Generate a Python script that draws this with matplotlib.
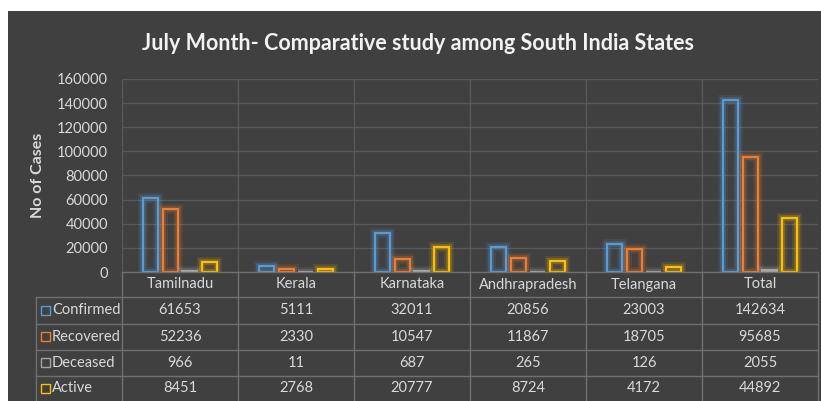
import matplotlib
matplotlib.use("Agg")
import matplotlib.pyplot as plt
import matplotlib.patheffects as pe
from matplotlib.patches import Rectangle
from matplotlib.lines import Line2D
import numpy as np

states = ["Tamilnadu", "Kerala", "Karnataka", "Andhrapradesh", "Telangana", "Total"]
series_names = ["Confirmed", "Recovered", "Deceased", "Active"]
confirmed = [61653, 5111, 32011, 20856, 23003, 142634]
recovered = [52236, 2330, 10547, 11867, 18705, 95685]
deceased = [966, 11, 687, 265, 126, 2055]
active = [8451, 2768, 20777, 8724, 4172, 44892]
series = [confirmed, recovered, deceased, active]
colors = ["#5B9BD5", "#ED7D31", "#A5A5A5", "#FFC000"]
yticks = [0, 20000, 40000, 60000, 80000, 100000, 120000, 140000, 160000]

W, H = 821, 401
BG = "#404040"
TXT = "#D9D9D9"
LINE = "#707070"
plt.rcParams['font.family'] = ['Lato', 'DejaVu Sans']

fig = plt.figure(figsize=(W / 100, H / 100), dpi=100, facecolor="white")

def fx(px):
    return px / W

def fy(py):
    return 1 - py / H

fig.patches.append(Rectangle((fx(8), 0), 1 - fx(8), fy(11), transform=fig.transFigure,
                             facecolor=BG, edgecolor="none", zorder=-10))

ax_l, ax_r, ax_t, ax_b = 122, 818, 79, 272
ax = fig.add_axes([fx(ax_l), fy(ax_b), fx(ax_r) - fx(ax_l), fy(ax_t) - fy(ax_b)])
ax.set_facecolor("none")
ax.set_xlim(-0.5, len(states) - 0.5)
ax.set_ylim(0, 160000)
ax.set_yticks(yticks)
ax.set_yticklabels([str(v) for v in yticks], color=TXT, fontsize=10.5)
ax.tick_params(axis="y", length=0, pad=10)
ax.set_xticks([])
for y in yticks[1:]:
    ax.axhline(y, color="#595959", lw=1, zorder=1)
for b in np.arange(-0.5, len(states) + 0.5, 1):
    ax.axvline(b, color="#595959", lw=1, zorder=1)
for s in ax.spines.values():
    s.set_visible(False)

pitch = 0.168
bw = 0.128
x = np.arange(len(states))
for k, (vals, c) in enumerate(zip(series, colors)):
    offs = (k - 1.5) * pitch
    bars = ax.bar(x + offs, vals, width=bw, facecolor="none", edgecolor=c, linewidth=1.5, zorder=3)
    for p in bars:
        p.set_path_effects([pe.Stroke(linewidth=7, foreground=c, alpha=0.12),
                            pe.Stroke(linewidth=4, foreground=c, alpha=0.25),
                            pe.Normal()])

ax.set_ylabel("No of Cases", color=TXT, fontsize=11.5, fontweight="bold")
ax.yaxis.set_label_coords((45 - ax_l) / (ax_r - ax_l), 0.5)

fig.text(0.5 * (fx(8) + 1) + fx(3), fy(44), "July Month- Comparative study among South India States",
         ha="center", va="center", color="#F2F2F2", fontsize=15.5, fontweight="bold")

# data table
col_w = (ax_r - ax_l) / len(states)
rows = [272, 297, 323.5, 350, 375.5, 401]
leg_l = 36
lines = []
lines.append(((ax_l, ax_r), (rows[0], rows[0])))
for r in rows[1:-1]:
    lines.append(((leg_l, ax_r), (r, r)))
for i in range(len(states) + 1):
    xx = ax_l + i * col_w
    lines.append(((xx, xx), (rows[0], H)))
lines.append(((leg_l, leg_l), (rows[1], H)))
for (xs, ys) in lines:
    fig.lines.append(Line2D([fx(xs[0]), fx(xs[1])], [fy(ys[0]), fy(ys[1])],
                            transform=fig.transFigure, color=LINE, lw=1, zorder=5))

for i, s in enumerate(states):
    cx = ax_l + (i + 0.5) * col_w
    fig.text(fx(cx), fy((rows[0] + rows[1]) / 2), s, ha="center", va="center",
             color=TXT, fontsize=10.5)
for r, (name, vals, c) in enumerate(zip(series_names, series, colors)):
    cy = (rows[r + 1] + rows[r + 2]) / 2
    fig.patches.append(Rectangle((fx(41), fy(cy + 4.5)), fx(9), 9 / H, transform=fig.transFigure,
                                 facecolor="none", edgecolor=c, lw=1, zorder=6))
    fig.text(fx(52), fy(cy), name, ha="left", va="center", color=TXT, fontsize=10.5)
    for i, v in enumerate(vals):
        cx = ax_l + (i + 0.5) * col_w
        fig.text(fx(cx), fy(cy), str(v), ha="center", va="center", color=TXT, fontsize=10.5)

fig.savefig("out.png", dpi=100, facecolor="white")
